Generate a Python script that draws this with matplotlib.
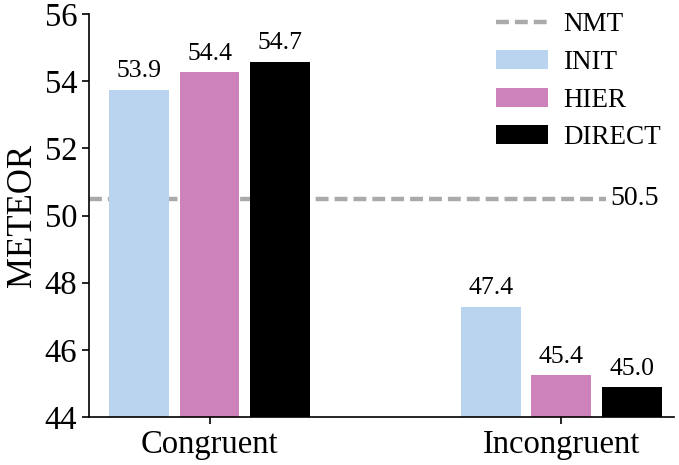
import matplotlib
matplotlib.use('Agg')
import matplotlib.pyplot as plt
import numpy as np

groups = ['Congruent', 'Incongruent']
systems = ['INIT', 'HIER', 'DIRECT']
init_vals = [53.75, 47.29]
hier_vals = [54.26, 45.25]
direct_vals = [54.58, 44.89]
init_labels = ['53.9', '47.4']
hier_labels = ['54.4', '45.4']
direct_labels = ['54.7', '45.0']
nmt_score = 50.5
nmt_label = '50.5'

colors = ['#bad3ee', '#cd82bb', '#000000']

plt.rcParams['font.family'] = 'serif'
plt.rcParams['font.serif'] = ['Liberation Serif', 'DejaVu Serif']
plt.rcParams['mathtext.fontset'] = 'stix'

fig = plt.figure(figsize=(6.79, 4.65), dpi=100)
ax = fig.add_axes([0.131, 0.103, 0.862, 0.867])

x = np.arange(len(groups))
width = 0.17
offsets = [-0.2, 0.0, 0.2]
series = [init_vals, hier_vals, direct_vals]
labels = [init_labels, hier_labels, direct_labels]

nmt_line, = ax.plot([-0.343, 1.128], [nmt_score, nmt_score], color='#aaaaaa',
                    linestyle='--', linewidth=3.2, dashes=(2.9, 1.35), label='NMT', zorder=1)
ax.text(1.14, nmt_score, nmt_label, fontsize=20, va='center', ha='left')

for vals, labs, off, col, name in zip(series, labels, offsets, colors, systems):
    bars = ax.bar(x + off, vals, width, color=col, label=name, zorder=2)
    for b, lab in zip(bars, labs):
        ax.text(b.get_x() + b.get_width() / 2, b.get_height() + 0.22, lab,
                ha='center', va='bottom', fontsize=18.5)

ax.set_ylim(44, 56)
ax.set_xlim(-0.343, 1.321)
ax.set_yticks([44, 46, 48, 50, 52, 54, 56])
ax.set_xticks(x)
ax.set_xticklabels(groups)
ax.tick_params(axis='both', labelsize=23.5, length=5, width=1.2)
ax.tick_params(axis='x', pad=4)
ax.set_ylabel('METEOR', fontsize=25, labelpad=4)

for s in ['top', 'right']:
    ax.spines[s].set_visible(False)
for s in ['left', 'bottom']:
    ax.spines[s].set_linewidth(1.2)

ax.legend(loc='upper right', bbox_to_anchor=(1.019, 1.065), frameon=False, fontsize=19.5,
          handlelength=1.95, handleheight=0.7, labelspacing=0.47, handletextpad=0.55)

fig.savefig('out.png', dpi=100)
